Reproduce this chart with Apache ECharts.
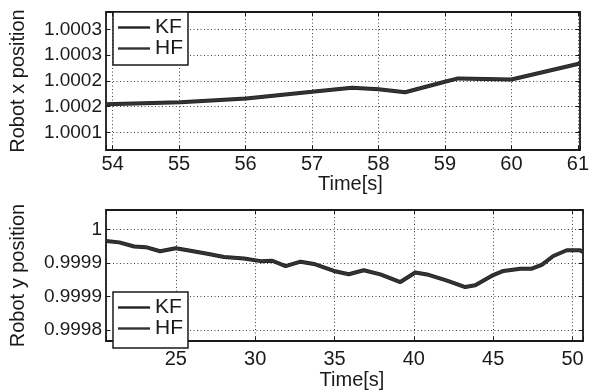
<!DOCTYPE html>
<html>
<head>
<meta charset="utf-8">
<script src="https://cdn.jsdelivr.net/npm/echarts@6/dist/echarts.min.js"></script>
<style>
  html, body { margin: 0; padding: 0; background: #fff; }
  #chart { width: 592px; height: 391px; }
</style>
</head>
<body>
<div id="chart"></div>
<script>
// top plot: x position over time
var topTime = [53.9, 55.02, 56.01, 57.0, 57.6, 58.0, 58.4, 59.0, 59.2, 60.0, 61.03];
var topKF = [1.000155, 1.0001585, 1.000166, 1.000179, 1.000187, 1.000184, 1.000178, 1.0001985, 1.000205, 1.000203, 1.000234];
var topHF = [1.000155, 1.0001585, 1.000166, 1.000179, 1.000187, 1.000184, 1.000178, 1.0001985, 1.000205, 1.000203, 1.000234];
var topYTicks = [1.0001, 1.00015, 1.0002, 1.00025, 1.0003];
var topYLabels = ['1.0001', '1.0002', '1.0002', '1.0003', '1.0003'];

// bottom plot: y position over time
var botTime = [20.6, 21.43, 22.38, 23.11, 24.01, 25.0, 25.74, 26.99, 28.04, 29.3, 30.35, 31.08, 31.92, 32.86, 33.7, 34.96,
    35.9, 36.84, 37.89, 39.15, 40.09, 40.83, 42.09, 43.24, 43.87, 44.92, 45.65, 46.7, 47.43, 48.06, 48.79, 49.64, 50.47, 50.66];
var botKF = [0.9999827, 0.9999808, 0.9999747, 0.9999737, 0.9999676, 0.9999719, 0.999969, 0.9999638, 0.9999591, 0.9999567,
    0.9999528, 0.9999534, 0.9999453, 0.999952, 0.9999486, 0.9999382, 0.9999332, 0.9999392, 0.999933, 0.9999216, 0.9999358,
    0.999933, 0.9999236, 0.9999141, 0.9999169, 0.9999311, 0.9999382, 0.9999415, 0.9999415, 0.9999472, 0.9999605, 0.999969,
    0.999969, 0.9999662];
var botHF = botKF.slice();
var botYTicks = [0.99985, 0.9999, 0.99995, 1];
var botYLabels = ['0.9998', '0.9999', '0.9999', '1'];

var seriesNames = ['KF', 'HF'];

(function () {
    var chart = echarts.init(document.getElementById('chart'));
    var font = 'Liberation Sans, Arial, Helvetica, sans-serif';
    var black = '#1a1a1a';

    function pairs(xs, ys) {
        var out = [];
        for (var i = 0; i < xs.length; i++) out.push([xs[i], ys[i]]);
        return out;
    }

    function labelFrom(ticks, labels) {
        return function (v) {
            for (var i = 0; i < ticks.length; i++) {
                if (Math.abs(ticks[i] - v) < 1e-9) return labels[i];
            }
            return '';
        };
    }

    var frameLine = { show: true, onZero: false, lineStyle: { color: black, width: 1.8 } };
    var grid = { show: true, color: '#444', type: [1, 2.5], width: 1 };

    function xAxes(gi, min, max, step, margin) {
        return [{
            type: 'value', gridIndex: gi, position: 'bottom', min: min, max: max,
            minInterval: step, maxInterval: step, splitNumber: Math.round((max - min) / step),
            axisLine: frameLine,
            axisTick: { show: true, inside: true, length: 4, lineStyle: { color: black } },
            axisLabel: {
                margin: margin, color: black, fontFamily: font, fontSize: 20,
                formatter: function (v) { return Math.abs(v - Math.round(v)) < 1e-6 ? String(Math.round(v)) : ''; }
            },
            splitLine: { lineStyle: grid },
            name: 'Time[s]', nameLocation: 'middle', nameGap: margin + 16,
            nameTextStyle: { color: black, fontFamily: font, fontSize: 20, padding: [0, 0, 0, 15] }
        }, {
            type: 'value', gridIndex: gi, position: 'top', min: min, max: max,
            minInterval: step, maxInterval: step, splitNumber: Math.round((max - min) / step),
            axisLine: frameLine,
            axisTick: { show: true, inside: true, length: 4, lineStyle: { color: black } },
            axisLabel: { show: false }, splitLine: { show: false }
        }];
    }

    function yAxes(gi, min, max, ticks, labels, name, pad) {
        var step = 0.00005;
        return [{
            type: 'value', gridIndex: gi, position: 'left', min: min, max: max,
            minInterval: step, maxInterval: step, splitNumber: 5, scale: true,
            axisLine: frameLine,
            axisTick: { show: true, inside: true, length: 4, lineStyle: { color: black } },
            axisLabel: { margin: 4, color: black, fontFamily: font, fontSize: 19, formatter: labelFrom(ticks, labels) },
            splitLine: { lineStyle: grid },
            name: name, nameLocation: 'middle', nameGap: 78,
            nameTextStyle: { color: black, fontFamily: font, fontSize: 20, padding: pad }
        }, {
            type: 'value', gridIndex: gi, position: 'right', min: min, max: max,
            minInterval: step, maxInterval: step, splitNumber: 5, scale: true,
            axisLine: frameLine,
            axisTick: { show: true, inside: true, length: 4, lineStyle: { color: black } },
            axisLabel: { show: false }, splitLine: { show: false }
        }];
    }

    function line(name, xi, yi, data, color, width) {
        return {
            name: name, type: 'line', xAxisIndex: xi, yAxisIndex: yi,
            data: data, showSymbol: false, smooth: false, animation: false,
            lineStyle: { color: color, width: width }, itemStyle: { color: color }
        };
    }

    function legend(top, pad) {
        return {
            data: seriesNames, orient: 'vertical', left: 113, top: top,
            padding: pad, itemGap: 0, itemWidth: 32, itemHeight: 20,
            backgroundColor: '#fff', borderColor: black, borderWidth: 1.5,
            icon: 'path://M0,0L32,0L32,2.4L0,2.4Z',
            textStyle: { color: black, fontFamily: font, fontSize: 21, lineHeight: 20 },
            selectedMode: false
        };
    }

    var option = {
        backgroundColor: '#fff',
        animation: false,
        grid: [
            { left: 105, top: 12, width: 478, height: 138 },
            { left: 105, top: 210, width: 478, height: 138 }
        ],
        legend: [legend(12, [5, 5, 6, 5]), legend(292, [5, 5, 9, 5])],
        xAxis: xAxes(0, 53.9, 61.03, 1, 4).concat(xAxes(1, 20.6, 50.66, 5, 8)),
        yAxis: yAxes(0, 1.0000659, 1.000334, topYTicks, topYLabels, 'Robot x position', [0, 0, 0, 0])
            .concat(yAxes(1, 0.9998335, 1.0000291, botYTicks, botYLabels, 'Robot y position', [0, 0, 0, 0])),
        series: [
            line('KF', 0, 0, pairs(topTime, topKF), '#222', 4),
            line('HF', 0, 0, pairs(topTime, topHF), '#333', 2.5),
            line('KF', 2, 2, pairs(botTime, botKF), '#222', 4),
            line('HF', 2, 2, pairs(botTime, botHF), '#333', 2.5)
        ]
    };
    chart.setOption(option);
})();
</script>
</body>
</html>
